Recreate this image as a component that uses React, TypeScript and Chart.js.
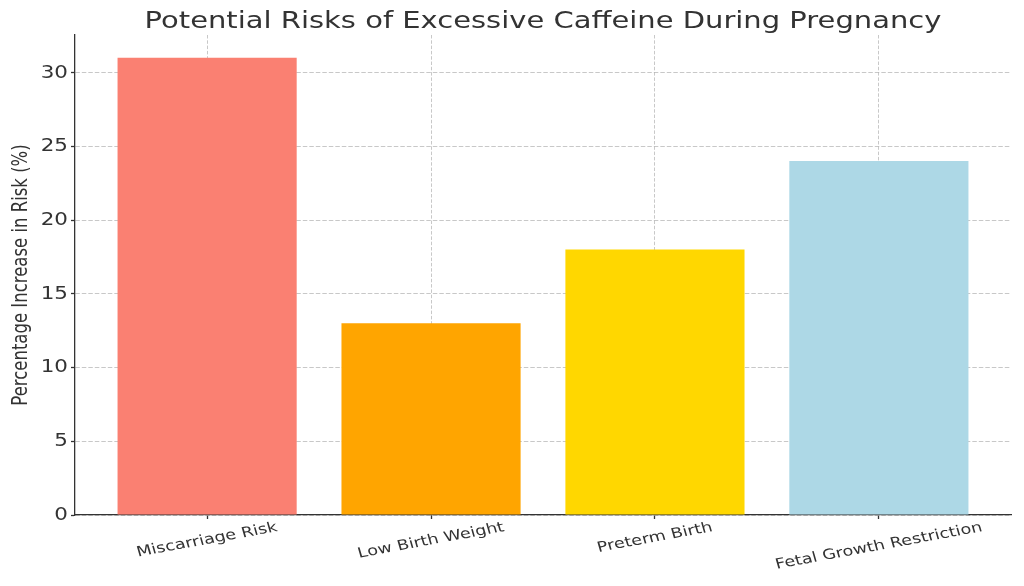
import React, { useEffect, useRef } from "react";
import { Chart, registerables } from "chart.js";

Chart.register(...registerables);

const categories: string[] = [
  "Miscarriage Risk",
  "Low Birth Weight",
  "Preterm Birth",
  "Fetal Growth Restriction",
];
const riskIncrease: number[] = [31, 13, 18, 24];
const barColors: string[] = ["#FA8072", "#FFA500", "#FFD700", "#ADD8E6"];
const yTicks: number[] = [0, 5, 10, 15, 20, 25, 30];

const TITLE = "Potential Risks of Excessive Caffeine During Pregnancy";
const Y_TITLE = "Percentage Increase in Risk (%)";
const FONT = "'DejaVu Sans', sans-serif";
const TEXT = "#333333";
const GRID = "rgba(176,176,176,0.7)";
const SX = 1.26; // horizontal stretch of glyphs seen in the reference

const textPlugin = {
  id: "stretchedText",
  afterDraw(chart: any) {
    const { ctx, chartArea } = chart;
    const xs = chart.scales.x;
    const ys = chart.scales.y;
    ctx.save();
    ctx.fillStyle = TEXT;

    // Title
    ctx.font = `23px ${FONT}`;
    ctx.textAlign = "center";
    ctx.textBaseline = "alphabetic";
    ctx.save();
    ctx.translate((chartArea.left + chartArea.right) / 2, 27.5);
    ctx.scale(SX, 1);
    ctx.fillText(TITLE, 0, 0);
    ctx.restore();

    // Y tick labels
    ctx.font = `17px ${FONT}`;
    ctx.textAlign = "right";
    ctx.textBaseline = "middle";
    yTicks.forEach((v) => {
      ctx.save();
      ctx.translate(chartArea.left - 7, ys.getPixelForValue(v) + 0.5);
      ctx.scale(SX, 1);
      ctx.fillText(String(v), 0, 0);
      ctx.restore();
    });

    // Y axis title
    ctx.font = `16.5px ${FONT}`;
    ctx.textAlign = "center";
    ctx.textBaseline = "middle";
    ctx.save();
    ctx.translate(22, (chartArea.top + chartArea.bottom) / 2);
    ctx.scale(SX, 1);
    ctx.rotate(-Math.PI / 2);
    ctx.fillText(Y_TITLE, 0, 0);
    ctx.restore();

    // X tick labels (rotated)
    const size = 14;
    const ang = (13 * Math.PI) / 180;
    ctx.font = `${size}px ${FONT}`;
    ctx.textAlign = "center";
    ctx.textBaseline = "middle";
    categories.forEach((lab, i) => {
      const x = xs.getPixelForValue(i);
      const w = ctx.measureText(lab).width;
      const h = size * 0.93;
      const bh = w * Math.sin(ang) + h * Math.cos(ang);
      const y = chartArea.bottom + 6 + bh / 2;
      ctx.save();
      ctx.translate(x, y);
      ctx.scale(SX, 1);
      ctx.rotate(-ang);
      ctx.fillText(lab, 0, 0);
      ctx.restore();
    });
    ctx.restore();
  },
};

export default function App() {
  const ref = useRef<HTMLCanvasElement | null>(null);

  useEffect(() => {
    document.body.style.margin = "0";
    const canvas = ref.current;
    if (!canvas) return;
    const chart = new Chart(canvas, {
      type: "bar",
      data: {
        datasets: [
          {
            data: riskIncrease.map((v, i) => ({ x: i, y: v })),
            backgroundColor: barColors,
            borderWidth: 0,
            barPercentage: 0.8,
            categoryPercentage: 1,
          },
        ],
      },
      options: {
        animation: false,
        responsive: false,
        layout: { padding: { left: 0, right: 13, top: 35, bottom: 0 } },
        plugins: {
          legend: { display: false },
          tooltip: { enabled: false },
          title: { display: false },
        },
        scales: {
          x: {
            type: "linear",
            min: -0.59,
            max: 3.59,
            offset: false,
            z: 1,
            afterBuildTicks: (scale: any) => {
              scale.ticks = categories.map((_, i) => ({ value: i }));
            },
            afterFit: (scale: any) => {
              scale.height = 71;
            },
            ticks: { display: false },
            grid: {
              display: true,
              offset: false,
              color: GRID,
              lineWidth: 1,
              drawTicks: true,
              tickLength: 4,
              tickColor: TEXT,
              tickBorderDash: [],
              tickWidth: 1.3,
            },
            border: { display: true, color: TEXT, width: 1.3, dash: [3.5, 1.8] },
          },
          y: {
            type: "linear",
            min: 0,
            max: 32.55,
            z: 1,
            afterBuildTicks: (scale: any) => {
              scale.ticks = yTicks.map((v) => ({ value: v }));
            },
            afterFit: (scale: any) => {
              scale.width = 75;
            },
            ticks: { display: false, includeBounds: false },
            grid: {
              display: true,
              color: GRID,
              lineWidth: 1,
              drawTicks: true,
              tickLength: 4,
              tickColor: TEXT,
              tickBorderDash: [],
              tickWidth: 1.3,
            },
            border: { display: true, color: TEXT, width: 1.3, dash: [4.5, 2] },
            title: { display: false },
          },
        },
      },
      plugins: [textPlugin],
    });
    return () => chart.destroy();
  }, []);

  return (
    <div style={{ width: 1024, height: 586, background: "#fff" }}>
      <canvas ref={ref} width={1024} height={586} style={{ display: "block" }} />
    </div>
  );
}
